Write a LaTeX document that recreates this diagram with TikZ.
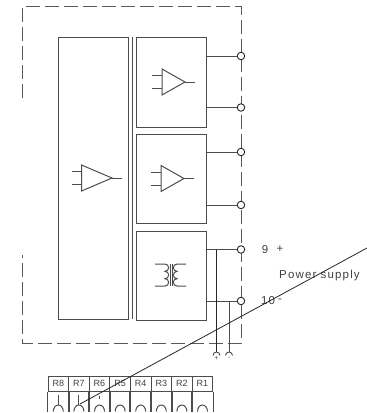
\documentclass[tikz,border=0pt]{standalone}
\usepackage{fontspec}
\setmainfont{Liberation Sans}
\newfontfamily\spacedfont[LetterSpace=10]{Liberation Sans}
\definecolor{linegray}{gray}{0.3}
\tikzset{
	wire/.style={draw=linegray,line width=1pt},
	blockbox/.style={draw=linegray,line width=1pt,inner sep=0pt,anchor=north west},
	portnode/.style={circle,draw=black!85,fill=white,line width=0.9pt,inner sep=0pt,minimum size=7.5pt},
	cell/.style={draw=linegray,line width=1pt,inner sep=0pt,minimum width=20.6pt,minimum height=15pt,font=\fontsize{9}{9}\selectfont,text=black!75},
	lab/.style={inner sep=0pt,font=\spacedfont\fontsize{11.5}{12}\selectfont,text=black!75}
}
\begin{document}
\begin{tikzpicture}[x=1pt,y=-1pt]
	\useasboundingbox (0,0) rectangle (367,413);
	\draw [wire,draw=black!65,dash pattern=on 14pt off 5pt] (22.5,98) -- (22.5,6.5) -- (241,6.5) -- (241,343) -- (22.5,343) -- (22.5,255);
	\node [blockbox,minimum width=70pt,minimum height=282pt] (ampL) at (58,37) {};
	\draw [wire] (132,37) -- (132,319);
	\node [blockbox,minimum width=70pt,minimum height=89.5pt] (amp1) at (135.5,37) {};
	\node [blockbox,minimum width=70pt,minimum height=89pt] (amp2) at (135.5,134) {};
	\node [blockbox,minimum width=70pt,minimum height=89.5pt] (trafo) at (135.5,230.5) {};
	\node [portnode] (p1) at (241,56) {};
	\node [portnode] (p2) at (241,107.5) {};
	\node [portnode] (p3) at (241,152) {};
	\node [portnode] (p4) at (241,205) {};
	\node [portnode] (p5) at (241,249.5) {};
	\node [portnode] (p6) at (241,301) {};
	\foreach \a/\b in {amp1/p1,amp1/p2,amp2/p3,amp2/p4,trafo/p5,trafo/p6}
		\draw [wire] (\b) -- (\b -| \a.east);
	% amplifiers
	\foreach \x/\y/\w in {162/82/23,161/178.5/23,81.5/178/30.5} {
		\draw [wire] (\x,\y-13) -- (\x+\w,\y) -- (\x,\y+13) -- cycle;
		\draw [wire] (\x-10,\y-6.5) -- (\x,\y-6.5);
		\draw [wire] (\x-10,\y+6.5) -- (\x,\y+6.5);
		\draw [wire] (\x+\w,\y) -- (\x+\w+9.5,\y);
	}
	% transformer
	\draw [wire] (155,264) -- (165,264) arc (-90:90:3.67) arc (-90:90:3.67) arc (-90:90:3.67) -- (155,286);
	\draw [wire] (186,264) -- (177,264) arc (270:90:3.67) arc (270:90:3.67) arc (270:90:3.67) -- (186,286);
	\draw [wire,line width=0.6pt] (170.5,264) -- (170.5,286);
	\draw [wire,line width=0.6pt] (172.5,264) -- (172.5,286);
	% supply
	\coordinate (capP) at (216.5,352);
	\coordinate (capN) at (229,352);
	\draw [wire,draw=black!85] (216.5,249.5) -- (capP);
	\draw [wire] (229,301) -- (capN);
	\foreach \c in {capP,capN}
		\draw [wire,line width=0.9pt] ([xshift=-3.5pt,yshift=-3.5pt]\c) arc (180:360:3.5);
	\node [inner sep=0pt,font=\fontsize{7}{7}\selectfont,text=black!70] (plusL) at (216.5,358.5) {+};
	\node [inner sep=0pt,font=\fontsize{7}{7}\selectfont,text=black!70] (minusL) at (229,358.5) {-};
	\node [lab] (nine) at (265,249.5) {9};
	\node [lab] (plus) at (280,249.5) {+};
	\node [lab] (ten) at (268,301) {10};
	\node [lab] (minus) at (280,301) {-};
	\node [lab,anchor=west] (supply) at (279,275.5) {Power supply};
	% relays
	\foreach \n [count=\i from 0] in {8,7,6,5,4,3,2,1} {
		\node [cell] (r\n) at (58.3+\i*20.6,383.5) {R\n};
		\coordinate (t\n) at ([yshift=-20pt]r\n.south);
		\draw [wire] (r\n.south west) -- ([yshift=-20pt]r\n.south west);
		\draw [wire] (r\n.south east) -- ([yshift=-20pt]r\n.south east);
		\draw [wire] ([xshift=-5pt]t\n) arc (180:360:5 and 6.5);
	}
	\draw [wire] ([yshift=-3.5pt]r8.south) -- ([yshift=6.5pt]t8);
	\draw [wire] ([yshift=-3.5pt]r7.south) -- ([yshift=6.5pt]t7);
	\draw [wire] ([yshift=-4pt]r6.south) -- ([yshift=-7pt]r6.south);
	\coordinate (lineS) at (367,248);
	\coordinate (lineE) at (80,404);
	\draw [black!85,line width=0.8pt] (lineS) -- (lineE);
\end{tikzpicture}
\end{document}
